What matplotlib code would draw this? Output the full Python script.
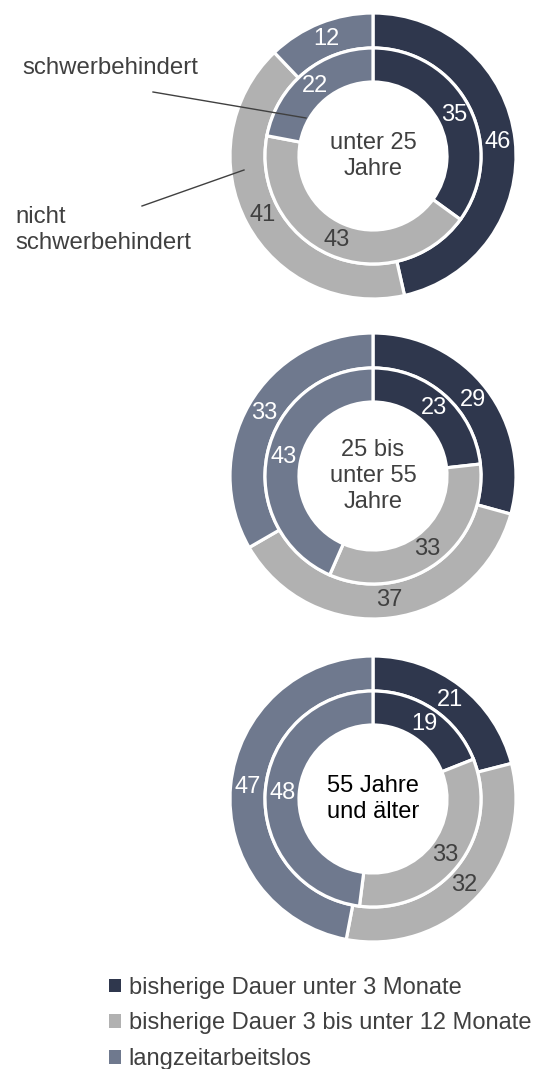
import matplotlib
matplotlib.use("Agg")
import matplotlib.pyplot as plt
from matplotlib.patches import Patch
import numpy as np

plt.rcParams['font.family'] = ['Liberation Sans', 'DejaVu Sans']

W, H = 537, 1069

# data (clockwise from 12 o'clock)
categories = ["bisherige Dauer unter 3 Monate",
              "bisherige Dauer 3 bis unter 12 Monate",
              "langzeitarbeitslos"]
colors = ["#2f374d", "#b1b1b1", "#6f798e"]
label_colors = ["white", "#404040", "white"]

age_groups = ["unter 25\nJahre", "25 bis\nunter 55\nJahre", "55 Jahre\nund älter"]
center_text_colors = ["#404040", "#404040", "black"]
outer_vals = [[46, 41, 12], [29, 37, 33], [21, 32, 47]]   # nicht schwerbehindert
inner_vals = [[35, 43, 22], [23, 33, 43], [19, 33, 48]]   # schwerbehindert

# layout in pixels
centers_y = [156, 476, 799]
cx = 373
R_out, w_out = 143, 35
R_in, w_in = 108, 34
FS = 17


def to_y(py):
    return H - py


def add_labels(ax, vals, center, r_mid):
    total = sum(vals)
    start = 0.0
    for v, col in zip(vals, label_colors):
        mid = (start + v / 2.0) / total * 2 * np.pi
        x = center[0] + r_mid * np.sin(mid)
        y = center[1] + r_mid * np.cos(mid)
        ax.text(x, y, str(v), ha="center", va="center", fontsize=FS, color=col)
        start += v


fig = plt.figure(figsize=(W / 100, H / 100), dpi=100)
ax = fig.add_axes([0, 0, 1, 1])

for i in range(3):
    c = (cx, to_y(centers_y[i]))
    ax.pie(outer_vals[i], colors=colors, radius=R_out, center=c,
           startangle=90, counterclock=False, normalize=True,
           wedgeprops=dict(width=w_out, edgecolor="white", linewidth=2.3))
    ax.pie(inner_vals[i], colors=colors, radius=R_in, center=c,
           startangle=90, counterclock=False, normalize=True,
           wedgeprops=dict(width=w_in, edgecolor="white", linewidth=2.3))
    add_labels(ax, outer_vals[i], c, R_out - w_out / 2.0)
    add_labels(ax, inner_vals[i], c, R_in - w_in / 2.0)
    ax.text(c[0], c[1], age_groups[i], ha="center", va="center",
            fontsize=FS, color=center_text_colors[i], linespacing=1.25)

ax.set_xlim(0, W)
ax.set_ylim(0, H)
ax.set_aspect("equal")
ax.axis("off")

# annotation labels
ax.text(22, to_y(68), "schwerbehindert", fontsize=FS + 0.3, color="#404040",
        ha="left", va="center")
ax.plot([153, 306], [to_y(92), to_y(118)], color="#404040", lw=1)
ax.text(15, to_y(230), "nicht\nschwerbehindert", fontsize=FS + 0.3, color="#404040",
        ha="left", va="center", linespacing=1.2)
ax.plot([142, 244], [to_y(206), to_y(170)], color="#404040", lw=1)

handles = [Patch(facecolor=col, edgecolor="none") for col in colors]
leg = ax.legend(handles, categories, loc="upper left",
                bbox_to_anchor=(97 / W, 1 - 965 / H), frameon=False,
                fontsize=FS, handlelength=0.5, handleheight=0.5,
                handletextpad=0.35, labelspacing=0.58, borderpad=0)
for t in leg.get_texts():
    t.set_color("#404040")

fig.savefig("out.png", dpi=100)
